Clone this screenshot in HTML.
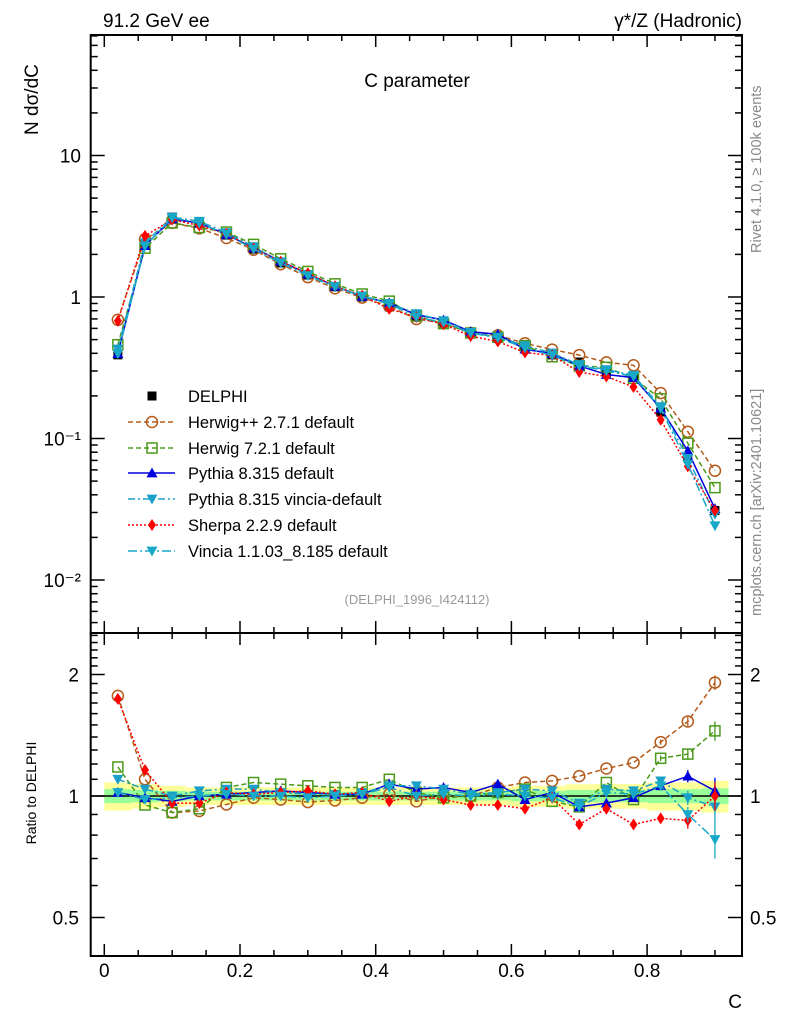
<!DOCTYPE html>
<html><head><meta charset="utf-8"><style>
html,body{margin:0;padding:0;background:#fff}
svg{display:block;font-family:"Liberation Sans",Arial,sans-serif}
</style></head><body>
<svg id="chart" width="786" height="1024" viewBox="0 0 786 1024" xmlns="http://www.w3.org/2000/svg">
<g id="bands"></g>
<g id="axes"></g>
<g id="series"></g>
<g id="legend"></g>
<text x="103" y="27" font-size="19">91.2 GeV ee</text>
<text x="742" y="27" font-size="19" text-anchor="end">γ*/Z (Hadronic)</text>
<text x="417" y="87" font-size="19" text-anchor="middle">C parameter</text>
<text transform="translate(38,135) rotate(-90)" font-size="19">N  dσ/dC</text>
<text transform="translate(36,793) rotate(-90)" font-size="14" text-anchor="middle">Ratio to DELPHI</text>
<text x="742" y="1008" font-size="19" text-anchor="end">C</text>
<text x="417" y="604" font-size="13" fill="#999" text-anchor="middle">(DELPHI_1996_I424112)</text>
<text transform="translate(761,253) rotate(-90)" font-size="14.5" fill="#888">Rivet 4.1.0, ≥ 100k events</text>
<text transform="translate(761,616) rotate(-90)" font-size="14.5" fill="#888">mcplots.cern.ch [arXiv:2401.10621]</text>
</svg>
<script>
const cVals=[0.02,0.06,0.10,0.14,0.18,0.22,0.26,0.30,0.34,0.38,0.42,0.46,0.50,0.54,0.58,0.62,0.66,0.70,0.74,0.78,0.82,0.86,0.90];
const delphi=[0.39,2.33,3.67,3.33,2.74,2.18,1.74,1.43,1.18,1.0,0.85,0.72,0.655,0.557,0.51,0.436,0.39,0.347,0.295,0.272,0.154,0.073,0.031];
const bandTot=[0.08,0.07,0.06,0.05,0.05,0.05,0.05,0.05,0.05,0.05,0.05,0.05,0.05,0.05,0.05,0.06,0.06,0.07,0.07,0.07,0.08,0.08,0.09];
const bandStat=[0.04,0.035,0.03,0.025,0.025,0.025,0.025,0.025,0.025,0.025,0.025,0.025,0.025,0.025,0.025,0.03,0.03,0.035,0.035,0.035,0.04,0.04,0.045];
const rHerwigpp=[1.77,1.10,0.91,0.918,0.953,0.99,0.98,0.966,0.975,0.99,1.01,0.97,1.0,1.0,1.05,1.08,1.09,1.12,1.17,1.21,1.36,1.53,1.91];
const rHerwig7=[1.18,0.95,0.91,0.93,1.05,1.08,1.07,1.06,1.05,1.05,1.10,1.02,0.99,1.0,1.02,1.04,0.97,0.94,1.08,0.98,1.24,1.27,1.45];
const rPythia=[1.02,0.99,0.97,1.0,1.01,1.02,1.03,1.02,1.01,1.01,1.07,1.04,1.05,1.02,1.07,0.98,1.02,0.94,0.96,0.99,1.06,1.12,1.03];
const rPythiaVincia=[1.10,1.04,1.0,1.03,1.04,1.04,1.02,1.01,1.01,1.02,1.06,1.06,1.04,1.01,1.02,1.04,1.03,0.96,1.04,1.03,1.09,0.99,0.94];
const rSherpa=[1.74,1.16,0.96,0.96,1.02,1.01,1.02,1.03,1.01,1.02,0.97,1.0,0.98,0.95,0.95,0.93,0.99,0.85,0.93,0.85,0.88,0.87,1.0];
const rVincia=[1.02,0.98,0.99,1.0,1.01,1.0,1.0,0.99,1.0,1.01,1.05,1.0,1.01,1.0,1.01,1.0,0.99,0.94,1.02,1.01,1.06,0.90,0.78];
const mcErr=[0.01,0.01,0.005,0.005,0.005,0.005,0.005,0.005,0.005,0.005,0.005,0.005,0.005,0.01,0.01,0.01,0.01,0.01,0.015,0.015,0.02,0.04,0.08];
const mainTicks=[10,1,0.1,0.01];
const mainTickLabels=["10","1","10⁻¹","10⁻²"];
const ratioTicks=[2,1,0.5];
const ratioTickLabels=["2","1","0.5"];
const xTicks=[0,0.2,0.4,0.6,0.8];
const xTickLabels=["0","0.2","0.4","0.6","0.8"];

const NS="http://www.w3.org/2000/svg";
const L=90.7,R=742,T=35,M=633,B=956;
const xs=c=>104.3+c*678.5;
const ym=v=>297-141.5*Math.log10(v);
const yr=v=>796-121.5*Math.log2(v);
function mk(tag,attrs,parent){const e=document.createElementNS(NS,tag);for(const k in attrs)e.setAttribute(k,attrs[k]);parent.appendChild(e);return e;}
const axes=document.getElementById('axes'),ser=document.getElementById('series'),bands=document.getElementById('bands'),leg=document.getElementById('legend');

cVals.forEach((c,i)=>{
  const x0=xs(c-0.02),x1=xs(c+0.02);
  const r1=mk('rect',{x:x0,y:yr(1+bandTot[i]),width:x1-x0,height:yr(1-bandTot[i])-yr(1+bandTot[i]),fill:'#ffff99'},bands);
  
  
  const r2=mk('rect',{x:x0,y:yr(1+bandStat[i]),width:x1-x0,height:yr(1-bandStat[i])-yr(1+bandStat[i]),fill:'#99ff99'},bands);
  
  
});

[[T,M],[M,B]].forEach(([a,b],k)=>{
  const f=mk('rect',{x:L,y:a,width:R-L,height:b-a,fill:'none',stroke:'#000','stroke-width':2},axes);
  
  
});
const ref=mk('line',{x1:L,x2:R,y1:yr(1),y2:yr(1),stroke:'#000','stroke-width':1.5},axes);



for(let c=0;c<=0.93;c+=0.05){
  const major=Math.abs(c/0.2-Math.round(c/0.2))<1e-6;const len=major?12:6;const x=xs(c);
  [[T,1],[M,-1],[M,1],[B,-1]].forEach(([y,d])=>{mk('line',{x1:x,x2:x,y1:y,y2:y+d*len,stroke:'#000','stroke-width':1.5},axes);});
}
xTicks.forEach((c,i)=>{const t=mk('text',{x:xs(c),y:977,'font-size':19,'text-anchor':'middle'},axes);t.textContent=xTickLabels[i];
  
  });

for(let e=-3;e<=1;e++){for(let m=1;m<10;m++){const v=m*Math.pow(10,e);const y=ym(v);if(y<T||y>M)continue;const len=m===1?14:7;
  mk('line',{x1:L,x2:L+len,y1:y,y2:y,stroke:'#000','stroke-width':1.5},axes);mk('line',{x1:R,x2:R-len,y1:y,y2:y,stroke:'#000','stroke-width':1.5},axes);}}
mainTicks.forEach((v,i)=>{const t=mk('text',{x:81,y:ym(v)+7,'font-size':19,'text-anchor':'end'},axes);t.textContent=mainTickLabels[i];
  
  });

for(let v=0.4;v<=2.55;v=Math.round((v+0.1)*10)/10){const y=yr(v);if(y<M||y>B)continue;const len=(v===0.5||v===1||v===2)?14:7;
  mk('line',{x1:L,x2:L+len,y1:y,y2:y,stroke:'#000','stroke-width':1.5},axes);mk('line',{x1:R,x2:R-len,y1:y,y2:y,stroke:'#000','stroke-width':1.5},axes);}
ratioTicks.forEach((v,i)=>{[[79,'end'],[750,'start']].forEach(([x,a])=>{const t=mk('text',{x:x,y:yr(v)+7,'font-size':19,'text-anchor':a},axes);t.textContent=ratioTickLabels[i];
  
  });});

function marker(type,x,y,col,g){
  const s=5.5;
  if(type==='sq')return mk('rect',{x:x-4.5,y:y-4.5,width:9,height:9,fill:'#000'},g);
  if(type==='circ')return mk('circle',{cx:x,cy:y,r:5.5,fill:'none',stroke:col,'stroke-width':1.5},g);
  if(type==='osq')return mk('rect',{x:x-5,y:y-5,width:10,height:10,fill:'none',stroke:col,'stroke-width':1.5},g);
  if(type==='up')return mk('polygon',{points:`${x},${y-s} ${x-s},${y+s*0.8} ${x+s},${y+s*0.8}`,fill:col},g);
  if(type==='dn')return mk('polygon',{points:`${x},${y+s} ${x-s},${y-s*0.8} ${x+s},${y-s*0.8}`,fill:col},g);
  if(type==='dia')return mk('polygon',{points:`${x},${y-6} ${x-4},${y} ${x},${y+6} ${x+4},${y}`,fill:col},g);
}
const series=[
 {name:'herwigpp',label:'Herwig++ 2.7.1 default',r:rHerwigpp,col:'#b35a1a',dash:'5,3',m:'circ'},
 {name:'herwig7',label:'Herwig 7.2.1 default',r:rHerwig7,col:'#4a9a1a',dash:'5,3',m:'osq'},
 {name:'pythia',label:'Pythia 8.315 default',r:rPythia,col:'#0000dd',dash:'',m:'up'},
 {name:'pythia-vincia',label:'Pythia 8.315 vincia-default',r:rPythiaVincia,col:'#1aa0c8',dash:'7,3,2,3',m:'dn'},
 {name:'sherpa',label:'Sherpa 2.2.9 default',r:rSherpa,col:'#ff0000',dash:'2,2',m:'dia'},
 {name:'vincia',label:'Vincia 1.1.03_8.185 default',r:rVincia,col:'#18a8c8',dash:'9,3,2,3',m:'dn'}
];
const dg=mk('g',{},ser);


cVals.forEach((c,i)=>{const p=marker('sq',xs(c),ym(delphi[i]),'#000',dg);
  
  });
series.forEach(s=>{
  const g=mk('g',{},ser);
  
  
  const mainPts=cVals.map((c,i)=>[xs(c),ym(delphi[i]*s.r[i])]);
  const ratPts=cVals.map((c,i)=>[xs(c),yr(s.r[i])]);
  [mainPts,ratPts].forEach((pts,k)=>{
    const l=mk('polyline',{points:pts.map(p=>p.join(',')).join(' '),fill:'none',stroke:s.col,'stroke-width':1.5,'stroke-dasharray':s.dash},g);
    
    
    pts.forEach((p,i)=>{
      if(k===1&&mcErr[i]>0.015){mk('line',{x1:p[0],x2:p[0],y1:yr(s.r[i]+mcErr[i]),y2:yr(s.r[i]-mcErr[i]),stroke:s.col,'stroke-width':1.3},g);}
      const mm=marker(s.m,p[0],p[1],s.col,g);
      
      
    });
  });
});
const rowsY=[396,422,448,473,499,525,551];
{const e=mk('g',{},leg);
 
 
 marker('sq',152,rowsY[0],'#000',e);
 const t=mk('text',{x:188,y:rowsY[0]+6,'font-size':16.5},e);t.textContent='DELPHI';}
series.forEach((s,i)=>{const y=rowsY[i+1];const e=mk('g',{},leg);
  
  
  mk('line',{x1:128,x2:175,y1:y,y2:y,stroke:s.col,'stroke-width':1.5,'stroke-dasharray':s.dash},e);
  marker(s.m,152,y,s.col,e);
  const t=mk('text',{x:188,y:y+6,'font-size':16.5},e);t.textContent=s.label;});
</script>
</body></html>
